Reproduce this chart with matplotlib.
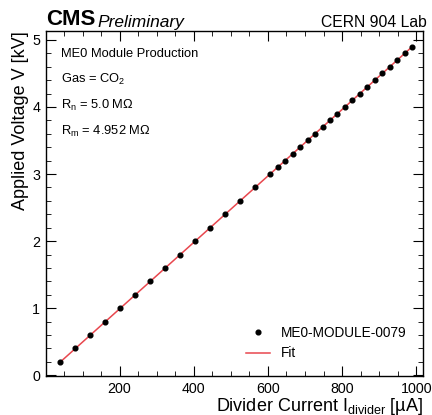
import numpy as np
import matplotlib
matplotlib.use('Agg')
import matplotlib.pyplot as plt
from matplotlib.ticker import MultipleLocator, AutoMinorLocator

plt.rcParams['font.family'] = ['Liberation Sans', 'DejaVu Sans']
plt.rcParams['mathtext.fontset'] = 'custom'
plt.rcParams['mathtext.rm'] = 'Liberation Sans'
plt.rcParams['mathtext.it'] = 'Liberation Sans:italic'

# measured points: applied voltage [kV] and divider current [uA]
voltage_kv = [0.2, 0.4, 0.6, 0.8, 1.0, 1.2, 1.4, 1.6, 1.8, 2.0, 2.2, 2.4, 2.6, 2.8, 3.0,
              3.1, 3.2, 3.3, 3.4, 3.5, 3.6, 3.7, 3.8, 3.9, 4.0, 4.1, 4.2, 4.3, 4.4,
              4.5, 4.6, 4.7, 4.8, 4.9]
current_ua = [40.4, 80.8, 121.2, 161.6, 201.9, 242.3, 282.7, 323.1, 363.5, 403.9,
              444.3, 484.7, 525.0, 565.4, 605.8, 626.0, 646.2, 666.4, 686.6, 706.8,
              727.0, 747.2, 767.4, 787.6, 807.8, 828.0, 848.1, 868.3, 888.5, 908.7,
              928.9, 949.1, 969.3, 989.5]
info_lines = ['ME0 Module Production', 'Gas = CO$_\\mathrm{2}$',
              'R$_\\mathrm{n}$ = 5.0 M$\\Omega$', 'R$_\\mathrm{m}$ = 4.952 M$\\Omega$']

x = np.array(current_ua)
y = np.array(voltage_kv)
slope, icept = np.polyfit(x, y, 1)
xfit = np.linspace(x.min(), x.max(), 100)

fig = plt.figure(figsize=(4.32, 4.15), dpi=100)
ax = fig.add_axes([0.106, 0.094, 0.873, 0.831])

ax.plot(x, y, 'o', color='black', markersize=3.4, label='ME0-MODULE-0079', zorder=3)
ax.plot(xfit, slope * xfit + icept, color='#e8474e', lw=1.1, label='Fit', zorder=2)

ax.set_xlim(1, 1018)
ax.set_ylim(-0.01, 5.13)
ax.xaxis.set_major_locator(MultipleLocator(200))
ax.xaxis.set_minor_locator(AutoMinorLocator(4))
ax.yaxis.set_major_locator(MultipleLocator(1))
ax.yaxis.set_minor_locator(AutoMinorLocator(5))
ax.tick_params(which='both', direction='in', top=True, right=True, labelsize=10.3)
ax.tick_params(which='major', length=7, pad=4)
ax.tick_params(which='minor', length=3.5)
for s in ax.spines.values():
    s.set_linewidth(1.0)

ax.set_xlabel('Divider Current I$_\\mathrm{divider}$ [\u00b5A]', fontsize=13,
              loc='right', labelpad=0)
ax.set_ylabel('Applied Voltage V [kV]', fontsize=13, loc='top', labelpad=2)

for i, line in enumerate(info_lines):
    ax.text(0.04, 0.935 - i * 0.075, line, transform=ax.transAxes, fontsize=9.3,
            va='center', ha='left')

ax.text(0.0, 1.004, 'CMS', transform=ax.transAxes, fontsize=16, fontweight='bold',
        va='bottom', ha='left')
ax.text(0.138, 1.004, 'Preliminary', transform=ax.transAxes, fontsize=12.5, style='italic',
        va='bottom', ha='left')
ax.text(1.01, 1.004, 'CERN 904 Lab', transform=ax.transAxes, fontsize=11.3,
        va='bottom', ha='right')

ax.legend(loc='lower right', frameon=False, fontsize=9.8, handlelength=1.8,
          borderaxespad=0.5, labelspacing=0.45, bbox_to_anchor=(0.99, 0.01))

fig.savefig('out.png', dpi=100)
